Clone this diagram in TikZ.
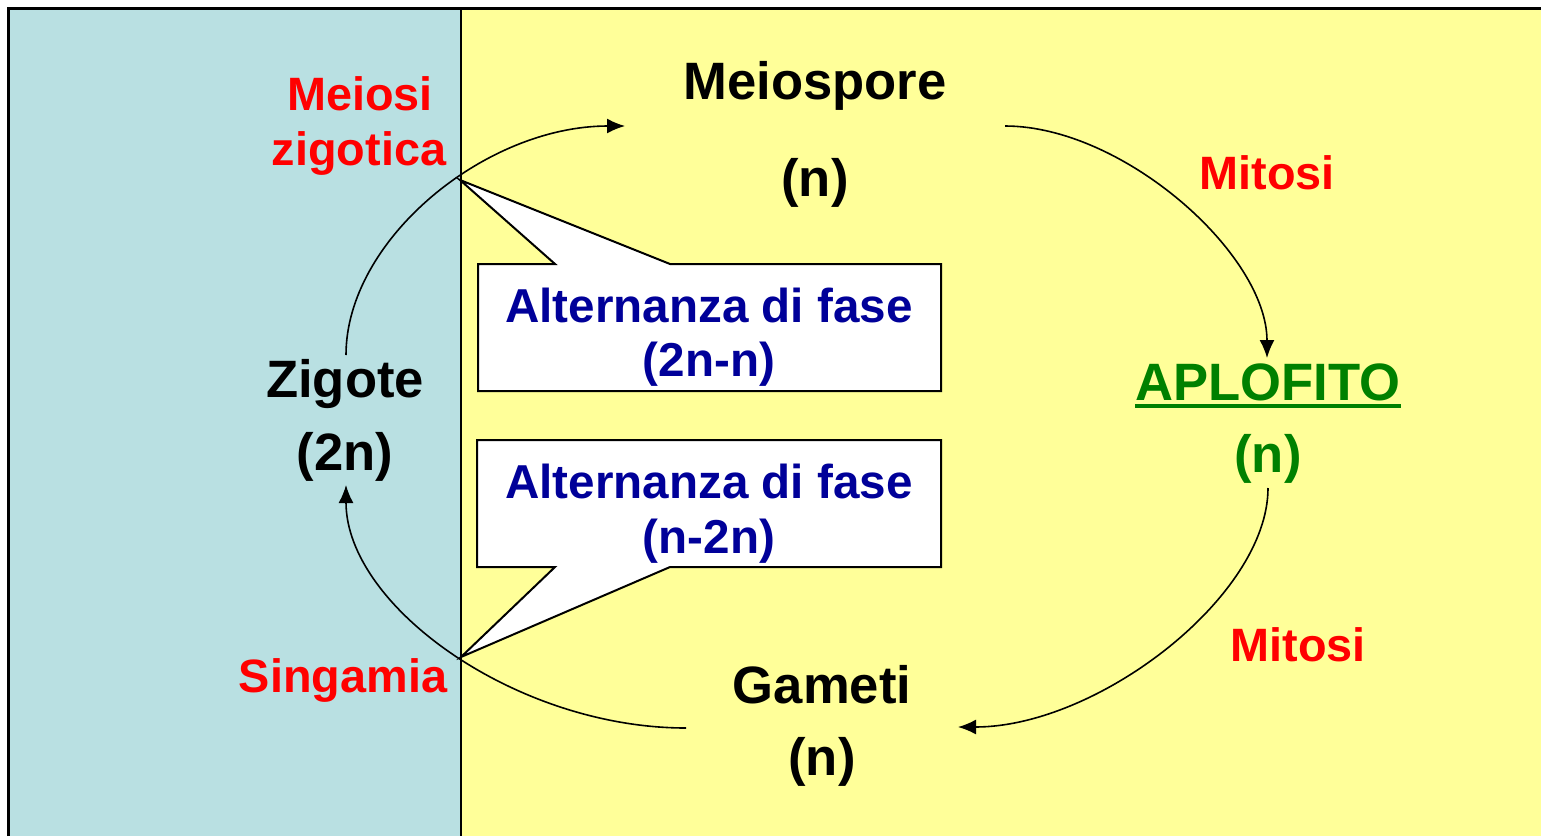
\documentclass[tikz,border=0pt]{standalone}
\usepackage{fontspec}
\setmainfont{Liberation Sans}
\usetikzlibrary{arrows.meta}
\definecolor{zigoblue}{RGB}{185,224,226}
\definecolor{aployellow}{RGB}{255,255,153}
\definecolor{fasered}{RGB}{255,0,0}
\definecolor{aplogreen}{RGB}{0,128,0}
\definecolor{fasenavy}{RGB}{0,0,153}
\newcommand{\bigfont}{\fontsize{26.3}{30}\selectfont\bfseries}
\newcommand{\redfont}{\fontsize{23.4}{27}\selectfont\bfseries}
\newcommand{\navyfont}{\fontsize{23.8}{27}\selectfont\bfseries}

\begin{document}
\begin{tikzpicture}[x=0.5pt,y=-0.5pt,
	lab/.style={anchor=base,inner sep=0pt,font=\bigfont},
	redlab/.style={anchor=base,inner sep=0pt,font=\redfont,text=fasered},
	navylab/.style={anchor=base,inner sep=0pt,font=\navyfont,text=fasenavy},
	fumetto/.style={draw,fill=white,line width=1pt},
	freccia/.style={-{Latex[length=9pt,width=7.5pt]},line width=0.8pt}]
	\useasboundingbox (0,0) rectangle (1541,836);
	\fill[aployellow] (8,8) rectangle (1541,836);
	\fill[zigoblue] (8,8) rectangle (461,836);
	\draw[line width=1pt] (461,8) -- (461,836);
	\draw[line width=1.5pt] (8,836) -- (8,8) -- (1541,8);
	
	\coordinate (punta1) at (460,180);
	\coordinate (punta2) at (461,657);
	\coordinate (zigsu) at (346,355);
	\coordinate (ziggiu) at (346,485);
	\coordinate (meioin) at (625,126);
	\coordinate (meioout) at (1005,126);
	\coordinate (aploin) at (1267,358);
	\coordinate (aploout) at (1268,488);
	\coordinate (gamin) at (958,727);
	\coordinate (gamout) at (686,728);
	
	\draw[fumetto] (478,264) -- (555,264) -- (punta1) -- (670,264) -- (941,264) -- (941,391) -- (478,391) -- cycle;
	\draw[fumetto] (477,440) -- (941,440) -- (941,567) -- (670,567) -- (punta2) -- (555,567) -- (477,567) -- cycle;
	\node[navylab] (fase1) at (709,322) {Alternanza di fase};
	\node[navylab] (fase1b) at (709,376) {(2n-n)};
	\node[navylab] (fase2) at (709,498) {Alternanza di fase};
	\node[navylab] (fase2b) at (709,553) {(n-2n)};
	
	\node[redlab] (meiosi) at (360,110) {Meiosi};
	\node[redlab] (zigotica) at (359,165) {zigotica};
	\node[lab] (meiospore) at (815,99) {Meiospore};
	\node[lab] (meiosporen) at (815,196) {(n)};
	\node[redlab] (mitosisu) at (1267,189) {Mitosi};
	\node[lab,text=aplogreen] (aplofito) at (1268,400) {APLOFITO};
	\node[lab,text=aplogreen] (aplofiton) at (1268,472) {(n)};
	\node[redlab] (mitosigiu) at (1298,661) {Mitosi};
	\node[lab] (gameti) at (822,703) {Gameti};
	\node[lab] (gametin) at (822,775) {(n)};
	\node[redlab] (singamia) at (343,692) {Singamia};
	\node[lab] (zigote) at (345,397) {Zigote};
	\node[lab] (zigoten) at (345,470) {(2n)};
	\draw[aplogreen,line width=2pt] ([yshift=-3pt]aplofito.base west) -- ([yshift=-3pt]aplofito.base east);
	
	\draw[freccia] (zigsu) .. controls +(0,-115) and +(-140,0) .. (meioin);
	\draw[freccia] (meioout) .. controls +(118,0) and +(0,-104) .. (aploin);
	\draw[freccia] (aploout) .. controls +(0,108) and +(140,0) .. (gamin);
	\draw[freccia] (gamout) .. controls +(-170,0) and +(0,121) .. (ziggiu);
\end{tikzpicture}
\end{document}
